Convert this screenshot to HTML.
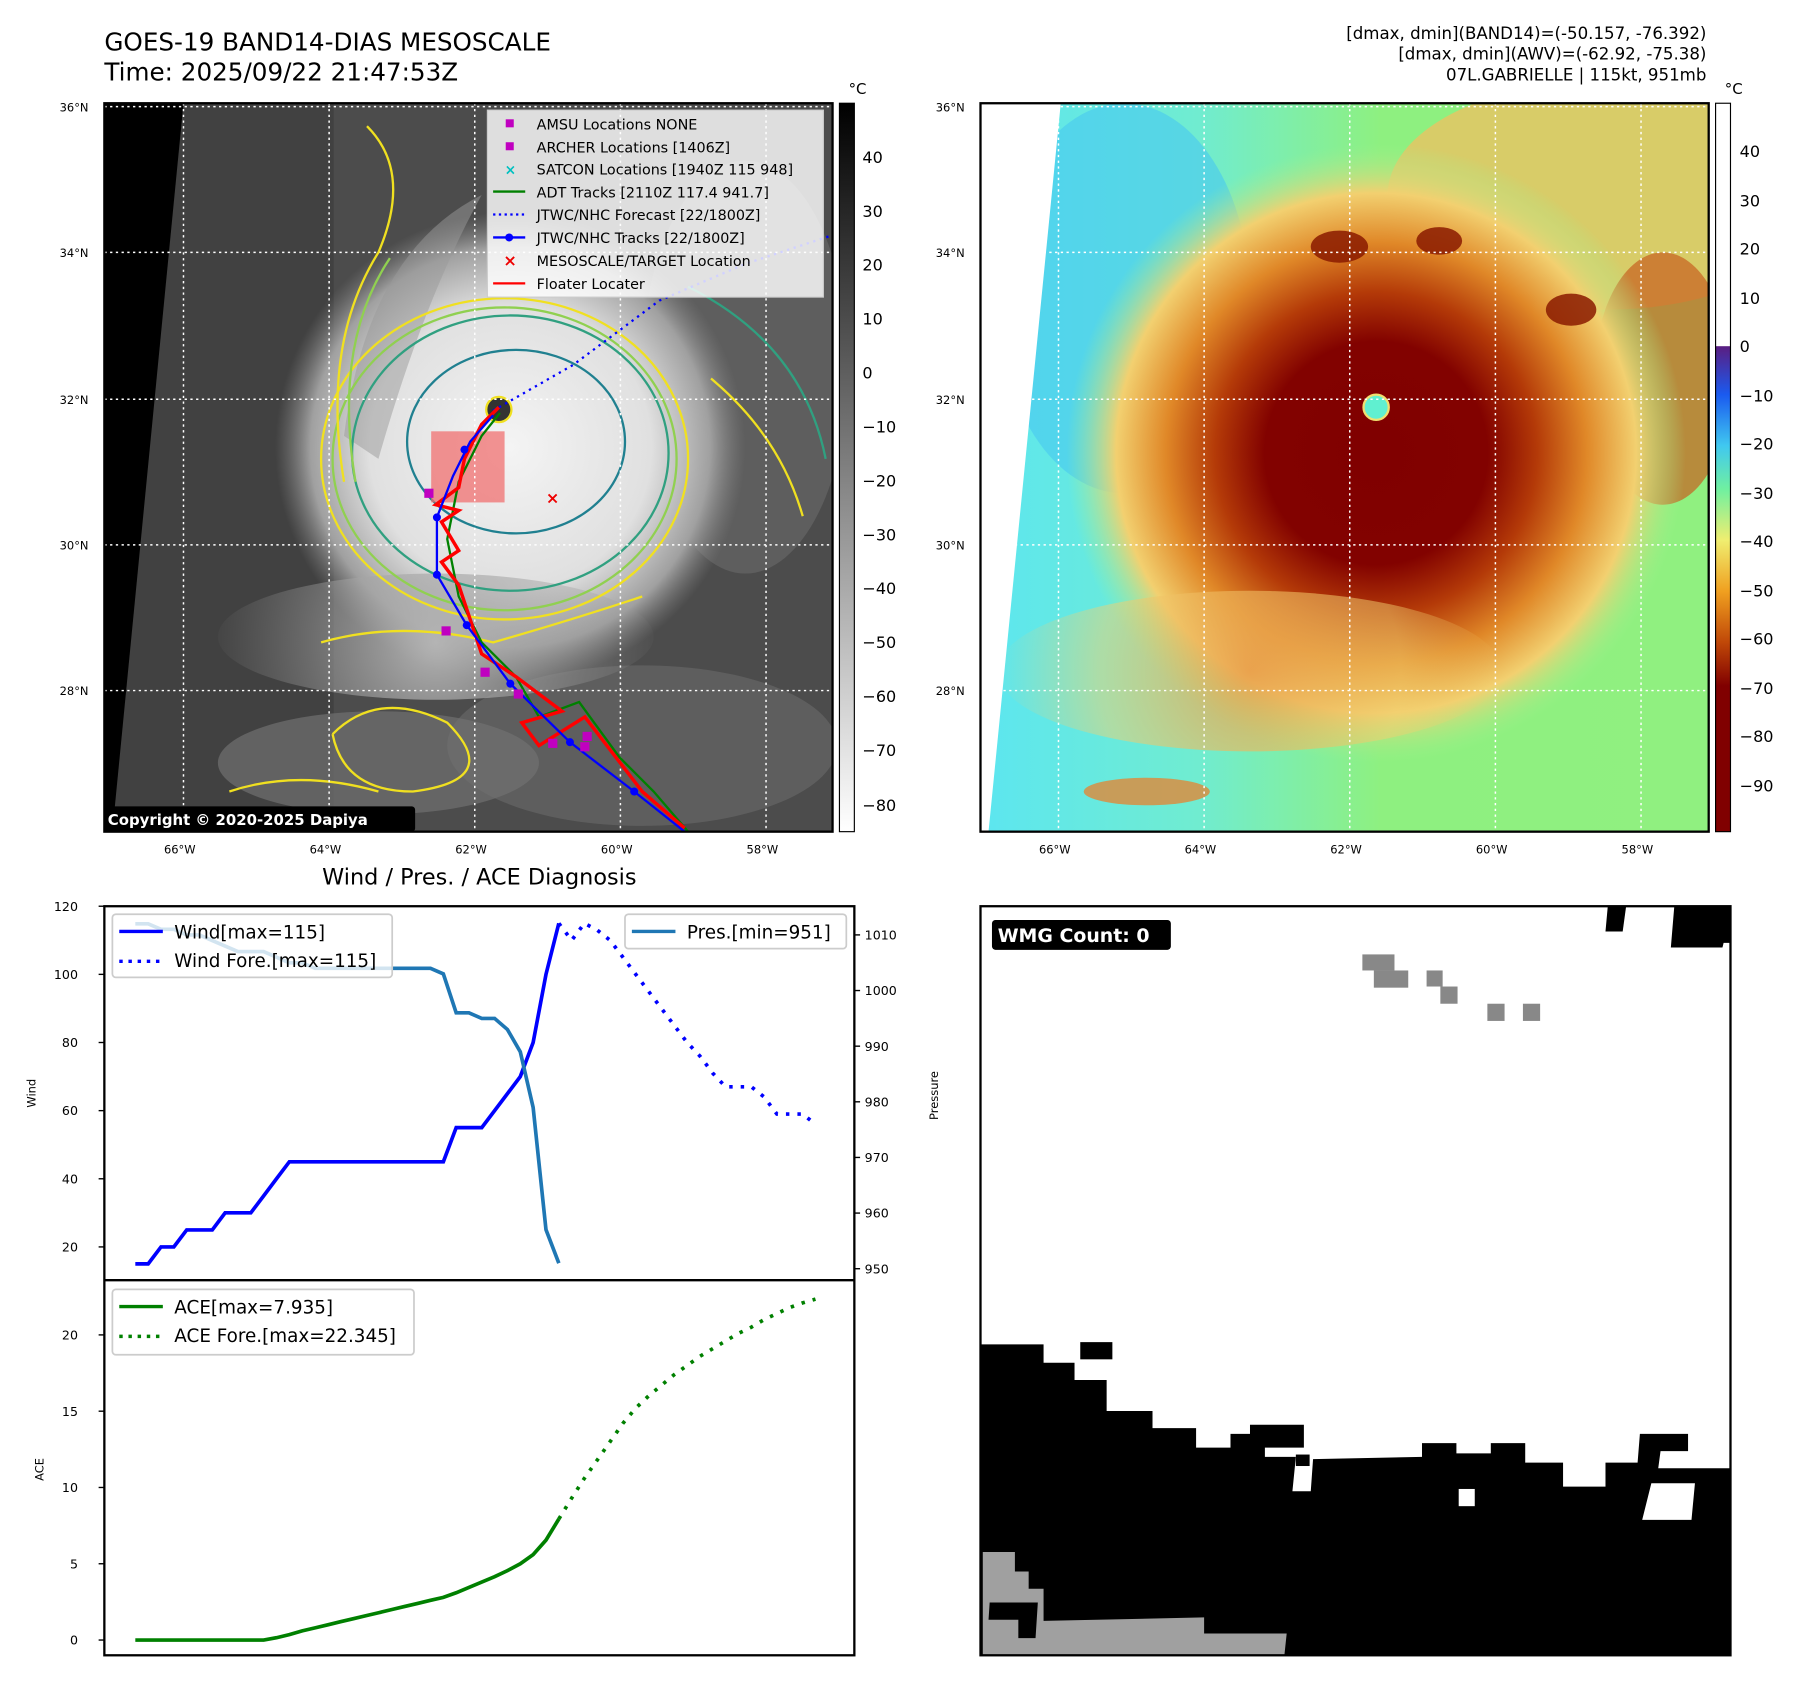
<!DOCTYPE html>
<html><head><meta charset="utf-8"><style>
html,body{margin:0;padding:0;background:#fff;}
svg{display:block;font-family:"DejaVu Sans","Liberation Sans",sans-serif;}
</style></head><body>
<svg id="fig" width="1797" height="1692" viewBox="0 0 1567 1475" preserveAspectRatio="none" xmlns="http://www.w3.org/2000/svg">
<defs>
<linearGradient id="gcb" x1="0" y1="0" x2="0" y2="1"><stop offset="0" stop-color="#000"/><stop offset="1" stop-color="#fff"/></linearGradient>
<linearGradient id="ccb" x1="0" y1="0" x2="0" y2="1">
<stop offset="0" stop-color="#fff"/><stop offset="0.333" stop-color="#fff"/><stop offset="0.334" stop-color="#5a1e82"/>
<stop offset="0.40" stop-color="#1a5af0"/><stop offset="0.47" stop-color="#40c8f0"/><stop offset="0.53" stop-color="#70f0a0"/>
<stop offset="0.60" stop-color="#f0ee70"/><stop offset="0.67" stop-color="#f0a020"/><stop offset="0.74" stop-color="#c04808"/>
<stop offset="0.80" stop-color="#800000"/><stop offset="1" stop-color="#800000"/></linearGradient>
<radialGradient id="storm" cx="445" cy="390" r="205" gradientUnits="userSpaceOnUse">
<stop offset="0" stop-color="#f4f4f4"/><stop offset="0.6" stop-color="#e0e0e0"/><stop offset="0.85" stop-color="#a0a0a0"/><stop offset="1" stop-color="#808080" stop-opacity="0"/></radialGradient>
<radialGradient id="band" cx="380" cy="560" r="200" gradientUnits="userSpaceOnUse">
<stop offset="0" stop-color="#b4b4b4"/><stop offset="1" stop-color="#909090" stop-opacity="0"/></radialGradient>
<radialGradient id="cstorm" cx="1200" cy="395" r="270" gradientUnits="userSpaceOnUse">
<stop offset="0" stop-color="#800000"/><stop offset="0.36" stop-color="#820200"/><stop offset="0.52" stop-color="#b43a08"/>
<stop offset="0.68" stop-color="#e08828"/><stop offset="0.84" stop-color="#f2d070"/><stop offset="1" stop-color="#a0f090" stop-opacity="0"/></radialGradient>
<radialGradient id="cband" cx="1090" cy="585" r="220" gradientUnits="userSpaceOnUse">
<stop offset="0" stop-color="#e89a48" stop-opacity="0.8"/><stop offset="0.6" stop-color="#f2d070" stop-opacity="0.5"/><stop offset="1" stop-color="#f2d070" stop-opacity="0"/></radialGradient>
<linearGradient id="cbg" x1="0" y1="0" x2="1" y2="0"><stop offset="0" stop-color="#5ce6f0"/><stop offset="0.3" stop-color="#70ecd0"/><stop offset="0.55" stop-color="#8ef080"/><stop offset="1" stop-color="#90f080"/></linearGradient>
<clipPath id="clipL"><rect x="91" y="90" width="635" height="635"/></clipPath>
<clipPath id="clipR"><rect x="855" y="90" width="635" height="635"/></clipPath>
</defs>

<text x="91" y="44" font-size="21.5">GOES-19 BAND14-DIAS MESOSCALE</text>
<text x="91" y="70" font-size="21.5">Time: 2025/09/22 21:47:53Z</text>
<g font-size="14.5" text-anchor="end">
<text x="1488" y="34">[dmax, dmin](BAND14)=(-50.157, -76.392)</text>
<text x="1488" y="52">[dmax, dmin](AWV)=(-62.92, -75.38)</text>
<text x="1488" y="70">07L.GABRIELLE | 115kt, 951mb</text>
</g>

<g clip-path="url(#clipL)">
<rect x="91" y="90" width="635" height="635" fill="#4c4c4c"/>
<rect x="91" y="90" width="200" height="635" fill="#3a3a3a" opacity="0.6"/>
<ellipse cx="560" cy="650" rx="170" ry="70" fill="#666" opacity="0.7"/>
<ellipse cx="330" cy="665" rx="140" ry="45" fill="#707070" opacity="0.7"/>
<ellipse cx="650" cy="320" rx="90" ry="180" fill="#6a6a6a" opacity="0.6"/>
<circle cx="445" cy="390" r="205" fill="url(#storm)"/>
<ellipse cx="380" cy="555" rx="190" ry="55" fill="url(#band)"/>
<path d="M300,380 Q320,220 420,170 Q370,260 330,400 Z" fill="#9a9a9a" opacity="0.5"/>
<polygon points="91,90 160,90 98,725 91,725" fill="#000"/>
<g fill="none" stroke-width="2">
<ellipse cx="440" cy="400" rx="160" ry="140" stroke="#f0e020"/>
<ellipse cx="440" cy="400" rx="150" ry="132" stroke="#90d050"/>
<ellipse cx="445" cy="395" rx="138" ry="120" stroke="#30a080"/>
<ellipse cx="450" cy="385" rx="95" ry="80" stroke="#208090"/>
<path d="M300,420 Q280,300 330,220 Q360,150 320,110" stroke="#f0e020"/>
<path d="M310,420 Q290,300 340,225" stroke="#90d050"/>
<path d="M280,560 Q350,540 430,560 Q500,540 560,520" stroke="#f0e020"/>
<path d="M290,640 Q330,600 390,630 Q440,680 360,690 Q300,690 290,640" stroke="#f0e020"/>
<path d="M200,690 Q260,670 330,690" stroke="#f0e020"/>
<path d="M600,250 Q700,300 720,400" stroke="#30a080"/>
<path d="M620,330 Q680,380 700,450" stroke="#f0e020"/>
</g>
<circle cx="435" cy="357" r="11" fill="#333" stroke="#f0e020" stroke-width="2"/>
<rect x="376" y="376" width="64" height="62" fill="#f07070" opacity="0.75"/>
<g stroke="#fff" stroke-width="1.3" stroke-dasharray="2,3">
<line x1="160" y1="90" x2="160" y2="725"/><line x1="287" y1="90" x2="287" y2="725"/><line x1="414" y1="90" x2="414" y2="725"/><line x1="541" y1="90" x2="541" y2="725"/><line x1="668" y1="90" x2="668" y2="725"/>
<line x1="91" y1="93" x2="726" y2="93"/><line x1="91" y1="220" x2="726" y2="220"/><line x1="91" y1="348" x2="726" y2="348"/><line x1="91" y1="475" x2="726" y2="475"/><line x1="91" y1="602" x2="726" y2="602"/>
</g>
<polyline points="430,358 500,318 575,262 650,230 726,205" fill="none" stroke="#00f" stroke-width="2" stroke-dasharray="2,4"/>
<polyline points="600,725 570,690 540,660 505,612 470,625 450,590 420,560 400,520 390,470 400,420 420,380 436,360" fill="none" stroke="#008000" stroke-width="2"/>
<polyline points="597,722 560,690 510,625 470,650 455,630 490,620 450,590 420,570 410,540 400,510 385,490 400,480 385,455 400,445 380,440 400,425 405,400 420,370 435,355" fill="none" stroke="#f00" stroke-width="3"/>
<polyline points="597,725 553,690 497,647 445,596 407,545 381,501 381,451 395,415 410,385 430,362" fill="none" stroke="#00f" stroke-width="2"/>
<g fill="#00f"><circle cx="553" cy="690" r="3.5"/><circle cx="497" cy="647" r="3.5"/><circle cx="445" cy="596" r="3.5"/><circle cx="407" cy="545" r="3.5"/><circle cx="381" cy="501" r="3.5"/><circle cx="381" cy="451" r="3.5"/><circle cx="405" cy="392" r="3.5"/></g>
<g fill="#c000c0"><rect x="370" y="426" width="8" height="8"/><rect x="385" y="546" width="8" height="8"/><rect x="419" y="582" width="8" height="8"/><rect x="448" y="601" width="8" height="8"/><rect x="478" y="644" width="8" height="8"/><rect x="506" y="647" width="8" height="8"/><rect x="508" y="638" width="8" height="8"/></g>
<text x="476" y="439" fill="#e00" font-size="14" font-weight="bold">×</text>
<g>
<rect x="425" y="96" width="293" height="163" fill="#fff" fill-opacity="0.82" stroke="#ccc"/>
<g font-size="12.5">
<rect x="441" y="104" width="7" height="7" fill="#c000c0"/><text x="468" y="113">AMSU Locations NONE</text>
<rect x="441" y="124" width="7" height="7" fill="#c000c0"/><text x="468" y="133">ARCHER Locations [1406Z]</text>
<text x="440" y="152" fill="#00c0c0" font-size="12" font-weight="bold">×</text><text x="468" y="152">SATCON Locations [1940Z 115 948]</text>
<line x1="430" y1="167" x2="458" y2="167" stroke="#008000" stroke-width="2"/><text x="468" y="172">ADT Tracks [2110Z 117.4 941.7]</text>
<line x1="430" y1="187" x2="458" y2="187" stroke="#00f" stroke-width="2" stroke-dasharray="2,3"/><text x="468" y="192">JTWC/NHC Forecast [22/1800Z]</text>
<line x1="430" y1="207" x2="458" y2="207" stroke="#00f" stroke-width="2"/><circle cx="444" cy="207" r="3.5" fill="#00f"/><text x="468" y="212">JTWC/NHC Tracks [22/1800Z]</text>
<text x="439" y="232" fill="#e00" font-size="14" font-weight="bold">×</text><text x="468" y="232">MESOSCALE/TARGET Location</text>
<line x1="430" y1="247" x2="458" y2="247" stroke="#f00" stroke-width="2"/><text x="468" y="252">Floater Locater</text>
</g></g>
<rect x="89" y="703" width="273" height="22" rx="3" fill="#000"/>
<text x="94" y="719" fill="#fff" font-size="13" font-weight="bold">Copyright © 2020-2025 Dapiya</text>
</g>
<rect x="91" y="90" width="635" height="635" fill="none" stroke="#000" stroke-width="2"/>

<g>
<rect x="732" y="90" width="13" height="635" fill="url(#gcb)" stroke="#000" stroke-width="1"/>
<text x="740" y="82" font-size="13">°C</text>
<g font-size="14">
<text x="752" y="142">40</text><text x="752" y="189">30</text><text x="752" y="236">20</text><text x="752" y="283">10</text><text x="752" y="330">0</text>
<text x="752" y="377">−10</text><text x="752" y="424">−20</text><text x="752" y="471">−30</text><text x="752" y="518">−40</text><text x="752" y="565">−50</text><text x="752" y="612">−60</text><text x="752" y="659">−70</text><text x="752" y="707">−80</text>
</g></g>
<g font-size="10">
<text x="52" y="97">36°N</text><text x="52" y="224">34°N</text><text x="52" y="352">32°N</text><text x="52" y="479">30°N</text><text x="52" y="606">28°N</text>
<text x="143" y="744">66°W</text><text x="270" y="744">64°W</text><text x="397" y="744">62°W</text><text x="524" y="744">60°W</text><text x="651" y="744">58°W</text>
</g>

<g clip-path="url(#clipR)">
<rect x="855" y="90" width="635" height="635" fill="url(#cbg)"/>
<ellipse cx="980" cy="260" rx="110" ry="170" fill="#48c8f0" opacity="0.6"/>
<ellipse cx="1400" cy="170" rx="190" ry="100" fill="#f0c060" opacity="0.75"/>
<ellipse cx="1450" cy="330" rx="60" ry="110" fill="#c86020" opacity="0.7"/>
<ellipse cx="1000" cy="690" rx="55" ry="12" fill="#e08838" opacity="0.8"/>
<circle cx="1200" cy="395" r="270" fill="url(#cstorm)"/>
<ellipse cx="1090" cy="585" rx="220" ry="70" fill="url(#cband)"/>
<g fill="#8a1a00" opacity="0.85"><ellipse cx="1168" cy="215" rx="25" ry="14"/><ellipse cx="1255" cy="210" rx="20" ry="12"/><ellipse cx="1370" cy="270" rx="22" ry="14"/></g>
<circle cx="1200" cy="355" r="11" fill="#60f0d0" stroke="#f0e070" stroke-width="2"/>
<polygon points="855,90 925,90 862,725 855,725" fill="#fff"/>
<g stroke="#fff" stroke-width="1.3" stroke-dasharray="2,3">
<line x1="923" y1="90" x2="923" y2="725"/><line x1="1050" y1="90" x2="1050" y2="725"/><line x1="1177" y1="90" x2="1177" y2="725"/><line x1="1304" y1="90" x2="1304" y2="725"/><line x1="1431" y1="90" x2="1431" y2="725"/>
<line x1="855" y1="93" x2="1490" y2="93"/><line x1="855" y1="220" x2="1490" y2="220"/><line x1="855" y1="348" x2="1490" y2="348"/><line x1="855" y1="475" x2="1490" y2="475"/><line x1="855" y1="602" x2="1490" y2="602"/>
</g>
</g>
<rect x="855" y="90" width="635" height="635" fill="none" stroke="#000" stroke-width="2"/>
<g>
<rect x="1496" y="90" width="13" height="635" fill="url(#ccb)" stroke="#000" stroke-width="1"/>
<text x="1504" y="82" font-size="13">°C</text>
<g font-size="14">
<text x="1517" y="137">40</text><text x="1517" y="180">30</text><text x="1517" y="222">20</text><text x="1517" y="265">10</text><text x="1517" y="307">0</text>
<text x="1517" y="350">−10</text><text x="1517" y="392">−20</text><text x="1517" y="435">−30</text><text x="1517" y="477">−40</text><text x="1517" y="520">−50</text><text x="1517" y="562">−60</text><text x="1517" y="605">−70</text><text x="1517" y="647">−80</text><text x="1517" y="690">−90</text>
</g></g>
<g font-size="10">
<text x="816" y="97">36°N</text><text x="816" y="224">34°N</text><text x="816" y="352">32°N</text><text x="816" y="479">30°N</text><text x="816" y="606">28°N</text>
<text x="906" y="744">66°W</text><text x="1033" y="744">64°W</text><text x="1160" y="744">62°W</text><text x="1287" y="744">60°W</text><text x="1414" y="744">58°W</text>
</g>

<g>
<rect x="855" y="790" width="654" height="653" fill="#fff"/>
<polygon fill="#000" points="855,1172 910,1172 910,1188 937,1188 937,1203 965,1203 965,1230 1005,1230 1005,1245 1043,1245 1043,1262 1073,1262 1073,1250 1090,1250 1090,1242 1137,1242 1137,1262 1103,1262 1103,1270 1130,1270 1127,1300 1143,1300 1145,1272 1240,1270 1240,1258 1270,1258 1270,1267 1300,1267 1300,1258 1330,1258 1330,1275 1363,1275 1363,1296 1400,1296 1400,1275 1428,1275 1430,1250 1472,1250 1472,1265 1448,1265 1446,1280 1509,1280 1509,1443 855,1443"/>
<rect x="942" y="1170" width="28" height="15" fill="#000"/>
<rect x="1130" y="1268" width="12" height="10" fill="#000"/>
<rect x="1272" y="1298" width="14" height="15" fill="#fff"/>
<polygon fill="#fff" points="1440,1293 1478,1293 1475,1325 1432,1325"/>
<polygon fill="#a0a0a0" points="857,1353 885,1353 885,1370 897,1370 897,1385 910,1385 910,1413 1050,1410 1050,1424 1122,1424 1120,1443 857,1443"/>
<polygon fill="#000" points="863,1397 905,1397 903,1428 888,1428 888,1412 862,1412"/>
<polygon fill="#000" points="1402,790 1418,790 1415,812 1400,812"/>
<polygon fill="#000" points="1460,790 1509,790 1509,822 1503,822 1502,826 1457,826"/>
<g fill="#888"><rect x="1188" y="832" width="28" height="14"/><rect x="1198" y="846" width="30" height="15"/><rect x="1244" y="846" width="14" height="14"/><rect x="1256" y="860" width="15" height="15"/><rect x="1297" y="875" width="15" height="15"/><rect x="1328" y="875" width="15" height="15"/></g>
<rect x="855" y="790" width="654" height="653" fill="none" stroke="#000" stroke-width="2"/>
<rect x="865" y="802" width="156" height="26" rx="3" fill="#000"/>
<text x="870" y="821" fill="#fff" font-size="16.5" font-weight="bold">WMG Count: 0</text>
</g>

<text x="418" y="771" font-size="19.5" text-anchor="middle">Wind / Pres. / ACE Diagnosis</text>
<g id="chart"></g>
<rect x="91" y="790" width="654" height="653" fill="none" stroke="#000" stroke-width="2"/>
<line x1="91" y1="1116" x2="745" y2="1116" stroke="#000" stroke-width="2"/>
<text transform="translate(31,953) rotate(-90)" font-size="10" text-anchor="middle">Wind</text>
<text transform="translate(818,955) rotate(-90)" font-size="10" text-anchor="middle">Pressure</text>
<text transform="translate(38,1281) rotate(-90)" font-size="10" text-anchor="middle">ACE</text>

<g>
<rect x="98" y="797" width="244" height="55" rx="3" fill="#fff" fill-opacity="0.8" stroke="#ccc" stroke-width="1.5"/>
<line x1="104" y1="812" x2="142" y2="812" stroke="#00f" stroke-width="3"/><text x="152" y="818" font-size="16">Wind[max=115]</text>
<line x1="104" y1="838" x2="142" y2="838" stroke="#00f" stroke-width="3" stroke-dasharray="3,5"/><text x="152" y="843" font-size="16">Wind Fore.[max=115]</text>
</g>
<g>
<rect x="545" y="797" width="193" height="30" rx="3" fill="#fff" fill-opacity="0.8" stroke="#ccc" stroke-width="1.5"/>
<line x1="551" y1="812" x2="589" y2="812" stroke="#1f77b4" stroke-width="3"/><text x="599" y="818" font-size="16">Pres.[min=951]</text>
</g>
<g>
<rect x="98" y="1124" width="263" height="57" rx="3" fill="#fff" fill-opacity="0.8" stroke="#ccc" stroke-width="1.5"/>
<line x1="104" y1="1139" x2="142" y2="1139" stroke="#008000" stroke-width="3"/><text x="152" y="1145" font-size="16">ACE[max=7.935]</text>
<line x1="104" y1="1165" x2="142" y2="1165" stroke="#008000" stroke-width="3" stroke-dasharray="3,5"/><text x="152" y="1170" font-size="16">ACE Fore.[max=22.345]</text>
</g>
</svg>
<script>
const windObs=[15,15,20,20,25,25,25,30,30,30,35,40,45,45,45,45,45,45,45,45,45,45,45,45,45,55,55,55,60,65,70,80,100,115];
const windFore=[115,110,115,113,110,105,100,95,90,85,80,76,71,67,67,67,64,59,59,59,56];
const presObs=[1012,1012,1011,1011,1010,1010,1009,1008,1007,1007,1007,1006,1005,1005,1004,1004,1004,1004,1004,1004,1004,1004,1004,1004,1003,996,996,995,995,993,989,979,957,951];
const aceObs=[0,0,0,0,0,0,0,0,0,0,0,0.15,0.35,0.6,0.8,1.0,1.2,1.4,1.6,1.8,2.0,2.2,2.4,2.6,2.8,3.1,3.45,3.8,4.15,4.55,5.0,5.6,6.55,7.935];
const aceFore=[7.935,9.3,10.6,11.8,13.0,14.2,15.2,16.0,16.7,17.4,18.0,18.6,19.1,19.6,20.1,20.5,21.0,21.4,21.8,22.1,22.345];
const windTicks=[20,40,60,80,100,120];
const presTicks=[950,960,970,980,990,1000,1010];
const aceTicks=[0,5,10,15,20];
const NS='http://www.w3.org/2000/svg';
const g=document.getElementById('chart');
const xOf=i=>118+i*11.19;
const yWind=v=>790+(120-v)*2.97;
const yPres=p=>815+(1010-p)*4.85;
const yAce=a=>1429.7-a*13.3;
function mk(tag,attrs){const e=document.createElementNS(NS,tag);for(const k in attrs)e.setAttribute(k,attrs[k]);g.appendChild(e);return e;}
function line(vals,off,yf,color,dash,name){
  const pts=vals.map((v,i)=>xOf(i+off).toFixed(1)+','+yf(v).toFixed(1)).join(' ');
  const p=mk('polyline',{points:pts,fill:'none',stroke:color,'stroke-width':3.2,'stroke-dasharray':dash||'none'});
  
  
}
line(windObs,0,yWind,'#0000ff',null,'wind-line');
line(windFore,windObs.length-1,yWind,'#0000ff','3,7','wind-forecast-line');
line(presObs,0,yPres,'#1f77b4',null,'pressure-line');
line(aceObs,0,yAce,'#008000',null,'ace-line');
line(aceFore,aceObs.length-1,yAce,'#008000','3,7','ace-forecast-line');
windTicks.forEach(v=>{const y=yWind(v);
  const t=mk('line',{x1:86,x2:91,y1:y,y2:y,stroke:'#000','stroke-width':1.2});
  
  
  const l=mk('text',{x:68,y:y+4,'font-size':11,'text-anchor':'end'});l.textContent=v;
  
  });
presTicks.forEach(v=>{const y=yPres(v);
  const t=mk('line',{x1:745,x2:750,y1:y,y2:y,stroke:'#000','stroke-width':1.2});
  
  
  const l=mk('text',{x:754,y:y+4,'font-size':11});l.textContent=v;
  
  });
aceTicks.forEach(v=>{const y=yAce(v);
  const t=mk('line',{x1:86,x2:91,y1:y,y2:y,stroke:'#000','stroke-width':1.2});
  
  
  const l=mk('text',{x:68,y:y+4,'font-size':11,'text-anchor':'end'});l.textContent=v;
  
  });
</script>
</body></html>
